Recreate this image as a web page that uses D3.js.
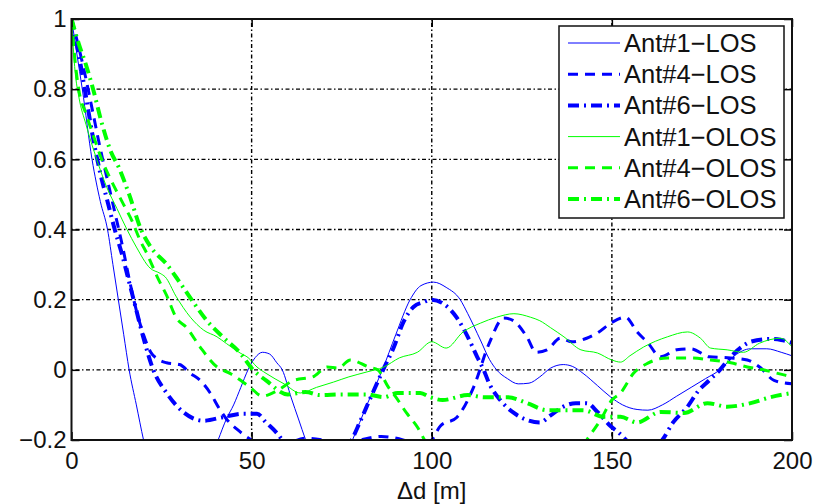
<!DOCTYPE html>
<html>
<head>
  <meta charset="utf-8">
  <title>Correlation vs distance</title>
  <script src="https://cdn.jsdelivr.net/npm/d3@7"></script>
  <style>
    body { margin: 0; background: #fff; }
    text { font-family: "Liberation Sans", Arial, sans-serif; fill: #111; }
  </style>
</head>
<body>
  <svg width="827" height="504" id="mainsvg"></svg>
  <script>
    // data: [delta d (m), value]
    const ant1LOS = [[0,1],[1.5,0.9],[3,0.8],[5.7,0.6],[8,0.48],[10,0.4],[11.5,0.3],[13,0.2],[14.5,0.1],[16,0],[18,-0.1],[20,-0.2],
      [23,-0.32],[27,-0.4],[31,-0.41],[35,-0.35],[38,-0.27],[40.7,-0.2],[43,-0.14],[45,-0.1],[47,-0.05],[49,0],[51,0.035],[53,0.05],
      [55,0.045],[57,0.02],[58.5,0],[61,-0.08],[63,-0.14],[65,-0.2],[68,-0.28],[72,-0.31],[75,-0.27],[78,-0.2],[82,-0.1],[86.3,0],
      [90,0.1],[94,0.2],[97,0.24],[100.5,0.25],[104,0.235],[107.9,0.2],[110,0.16],[113.5,0.085],[116,0.03],[118,0],[121,-0.025],
      [124,-0.04],[127,-0.038],[130,-0.02],[133,0.005],[136.5,0.015],[139,0.01],[142,-0.01],[146,-0.045],[149.6,-0.077],[153,-0.1],
      [157,-0.113],[160,-0.115],[164,-0.1],[168,-0.075],[172,-0.05],[176,-0.025],[180,0],[184,0.04],[188.5,0.06],[193,0.06],
      [197,0.05],[200,0.04]];
    const ant4LOS = [[0,1],[2,0.92],[4,0.83],[6,0.73],[8,0.63],[10,0.54],[12,0.45],[14,0.36],[16,0.26],[17.5,0.19],[20,0.1],[22,0.05],
      [24,0.03],[26.4,0.02],[30,0.015],[33,-0.01],[35.7,-0.03],[38.5,-0.066],[41,-0.11],[43,-0.14],[46,-0.17],[50,-0.2],[55,-0.22],
      [60,-0.21],[65,-0.195],[70,-0.2],[75,-0.21],[80,-0.2],[86,-0.19],[92,-0.2],[97,-0.22],[100,-0.2],[102.4,-0.16],[107,-0.135],
      [111.6,-0.05],[116,0.077],[120,0.148],[122.7,0.14],[126.4,0.094],[129,0.05],[132,0.057],[135.7,0.09],[139,0.08],[143,0.09],
      [146,0.105],[150,0.135],[153.8,0.15],[157,0.108],[160,0.077],[163.5,0.037],[168,0.057],[172,0.06],[177,0.037],[183,0.034],
      [187.6,0.028],[191,0.008],[195,-0.03],[200,-0.04]];
    const ant6LOS = [[0,1],[2,0.9],[4,0.78],[6,0.66],[8,0.56],[10,0.48],[12,0.4],[14,0.33],[16,0.25],[17.5,0.19],[20,0.09],[22.7,0],
      [26.4,-0.066],[31,-0.12],[36.6,-0.145],[42,-0.135],[47.7,-0.125],[51.5,-0.125],[54,-0.15],[57,-0.18],[60,-0.22],[65,-0.26],
      [70,-0.27],[75,-0.24],[78,-0.195],[80,-0.15],[83,-0.08],[86.5,0],[89.5,0.065],[92,0.133],[95,0.18],[97.7,0.193],[100,0.2],
      [103,0.19],[107,0.148],[110,0.094],[112.6,0.037],[114.4,0],[116,-0.04],[119,-0.086],[122.8,-0.123],[126.5,-0.143],[130,-0.15],
      [133,-0.13],[136.5,-0.105],[140,-0.095],[143,-0.095],[146,-0.12],[149.6,-0.16],[152,-0.18],[155,-0.21],[160,-0.24],[164,-0.2],
      [167,-0.15],[171,-0.105],[174,-0.06],[177,-0.03],[180,0],[183,0.037],[186,0.065],[188.5,0.08],[194,0.088],[197,0.085],[200,0.077]];
    const ant1OLOS = [[0,1],[1,0.85],[2,0.78],[4,0.7],[7,0.6],[9.8,0.52],[12.6,0.46],[15.4,0.4],[18,0.35],[21.8,0.29],[24.6,0.275],
      [26,0.265],[29,0.21],[33,0.15],[36.7,0.113],[40.4,0.094],[43,0.075],[46.8,0.048],[49,0.035],[51.5,0.008],[54,-0.01],[59,-0.04],
      [63.5,-0.066],[68,-0.05],[72.7,-0.035],[77,-0.02],[82,-0.006],[86.7,0.008],[91,0.034],[96,0.05],[100,0.08],[104,0.062],
      [108.7,0.108],[113.5,0.133],[118,0.15],[122.8,0.16],[127.4,0.15],[130,0.14],[133,0.12],[136.7,0.094],[141.4,0.057],[146,0.048],
      [150,0.028],[152.4,0.022],[155,0.04],[158.8,0.065],[165.4,0.094],[171,0.108],[174.6,0.09],[177.4,0.062],[182,0.057],
      [186.5,0.05],[191,0.076],[196.8,0.09],[200,0.065]];
    const ant4OLOS = [[0,1],[1,0.88],[2,0.8],[4,0.73],[6,0.67],[8,0.61],[11,0.54],[14,0.48],[17,0.42],[19,0.37],[21,0.33],[23.8,0.265],
      [26.5,0.21],[29,0.15],[32,0.12],[35.7,0.065],[40.4,0.008],[44,-0.01],[49.6,-0.05],[53,-0.075],[57,-0.06],[61.7,-0.03],[67,-0.02],
      [71,0.008],[74,0.005],[77.4,0.028],[82.5,0.008],[85,0],[88,-0.05],[90,-0.077],[93,-0.123],[96,-0.163],[98,-0.2],[102,-0.27],
      [110,-0.33],[120,-0.36],[130,-0.33],[138,-0.27],[143,-0.2],[147,-0.14],[150,-0.086],[152.4,-0.066],[156,-0.01],[160,0.019],
      [165.4,0.034],[172,0.034],[177.4,0.028],[183,0.02],[187.6,0.008],[192,0],[196,-0.01],[200,-0.02]];
    const ant6OLOS = [[0,1],[2,0.93],[4,0.87],[6,0.8],[8.5,0.7],[11,0.62],[13,0.58],[16,0.5],[19.3,0.4],[22,0.35],[26.5,0.3],[30,0.25],
      [34,0.19],[37.6,0.14],[42,0.094],[46.8,0.048],[50.4,0],[54,-0.03],[60,-0.07],[65,-0.063],[69,-0.072],[75,-0.07],[82,-0.07],
      [86.7,-0.078],[90.5,-0.066],[96.8,-0.066],[99.6,-0.078],[103,-0.086],[110,-0.072],[114.5,-0.078],[121,-0.078],[126.5,-0.095],
      [132,-0.115],[136.7,-0.115],[142,-0.115],[147.8,-0.134],[152.4,-0.134],[157,-0.15],[163.5,-0.12],[170,-0.123],[176.5,-0.095],
      [182,-0.105],[188.5,-0.095],[194,-0.078],[200,-0.066]];

    const seriesNames = ['Ant#1\u2212LOS', 'Ant#4\u2212LOS', 'Ant#6\u2212LOS', 'Ant#1\u2212OLOS', 'Ant#4\u2212OLOS', 'Ant#6\u2212OLOS'];
    const seriesData = [ant1LOS, ant4LOS, ant6LOS, ant1OLOS, ant4OLOS, ant6OLOS];
    const xTicks = [0, 50, 100, 150, 200];
    const yTicks = [-0.2, 0, 0.2, 0.4, 0.6, 0.8, 1];
    const xLabel = '\u0394d [m]';

    // line styles per series (MATLAB-ish)
    const styles = [
      { color: '#0000ff', width: 1, dash: null },
      { color: '#0000ff', width: 3, dash: '10,7' },
      { color: '#0000ff', width: 4, dash: '11,5,2,5' },
      { color: '#00ff00', width: 1, dash: null },
      { color: '#00ff00', width: 3, dash: '10,7' },
      { color: '#00ff00', width: 4, dash: '11,5,2,5' }
    ];

    const svg = d3.select('#mainsvg');
    const plotLeft = 71.5, plotRight = 792, plotTop = 19, plotBottom = 440;

    const x = d3.scaleLinear().domain([0, 200]).range([plotLeft, plotRight]);
    const y = d3.scaleLinear().domain([-0.2, 1]).range([plotBottom, plotTop]);

    svg.append('defs').append('clipPath').attr('id', 'plotclip')
      .append('rect').attr('x', plotLeft).attr('y', plotTop)
      .attr('width', plotRight - plotLeft).attr('height', plotBottom - plotTop);

    // grid
    const grid = svg.append('g').attr('class', 'grid')
      .attr('stroke', '#000').attr('stroke-width', 1.4).attr('stroke-dasharray', '1.5,2.5,4,2.5');
    grid.selectAll('.vgrid').data(xTicks.slice(1, -1)).join('line').attr('class', 'vgrid')
      .attr('x1', d => x(d)).attr('x2', d => x(d)).attr('y1', plotTop).attr('y2', plotBottom);
    grid.selectAll('.hgrid').data(yTicks.slice(1, -1)).join('line').attr('class', 'hgrid')
      .attr('x1', plotLeft).attr('x2', plotRight).attr('y1', d => y(d)).attr('y2', d => y(d));

    // curves
    const line = d3.line().x(d => x(d[0])).y(d => y(d[1])).curve(d3.curveMonotoneX);
    svg.append('g').attr('clip-path', 'url(#plotclip)')
      .selectAll('path').data(seriesData).join('path')
      .attr('fill', 'none')
      .attr('stroke', (d, i) => styles[i].color)
      .attr('stroke-width', (d, i) => styles[i].width)
      .attr('stroke-dasharray', (d, i) => styles[i].dash)
      .attr('stroke-linejoin', 'round')
      .attr('d', line);

    // axes with inward ticks on all four sides
    const tickLen = 8;
    const axisG = svg.append('g');
    axisG.append('g').attr('transform', `translate(0,${plotBottom})`)
      .call(d3.axisBottom(x).tickValues(xTicks).tickSizeInner(-tickLen).tickSizeOuter(0).tickPadding(12))
      .call(g => g.select('.domain').remove());
    axisG.append('g').attr('transform', `translate(0,${plotTop})`)
      .call(d3.axisTop(x).tickValues(xTicks).tickSizeInner(-tickLen).tickSizeOuter(0).tickFormat(''))
      .call(g => g.select('.domain').remove());
    axisG.append('g').attr('transform', `translate(${plotLeft},0)`)
      .call(d3.axisLeft(y).tickValues(yTicks).tickSizeInner(-tickLen).tickSizeOuter(0).tickPadding(5)
        .tickFormat(d => d === 1 ? '1' : d === 0 ? '0' : d3.format('.1f')(d).replace(/[-\u2212]/, '\u2212')))
      .call(g => g.select('.domain').remove());
    axisG.append('g').attr('transform', `translate(${plotRight},0)`)
      .call(d3.axisRight(y).tickValues(yTicks).tickSizeInner(-tickLen).tickSizeOuter(0).tickFormat(''))
      .call(g => g.select('.domain').remove());
    axisG.selectAll('.tick line').attr('stroke', '#000').attr('stroke-width', 1.5);
    axisG.selectAll('.tick text').attr('font-size', 24).attr('fill', '#111')
      .style('font-family', '"Liberation Sans", Arial, sans-serif');

    svg.append('rect').attr('x', plotLeft).attr('y', plotTop)
      .attr('width', plotRight - plotLeft).attr('height', plotBottom - plotTop)
      .attr('fill', 'none').attr('stroke', '#111').attr('stroke-width', 2);

    svg.append('text').attr('x', (plotLeft + plotRight) / 2).attr('y', 499)
      .attr('text-anchor', 'middle').attr('font-size', 24).text(xLabel);

    // legend
    const legend = svg.append('g').attr('transform', 'translate(559,26)');
    legend.append('rect').attr('width', 225).attr('height', 192)
      .attr('fill', '#fff').attr('stroke', '#111').attr('stroke-width', 1.5);
    const rows = legend.selectAll('.row').data(seriesNames).join('g').attr('class', 'row')
      .attr('transform', (d, i) => `translate(0,${17 + i * 31.2})`);
    rows.append('line').attr('x1', 9).attr('x2', 61).attr('y1', 0).attr('y2', 0)
      .attr('stroke', (d, i) => styles[i].color)
      .attr('stroke-width', (d, i) => styles[i].width)
      .attr('stroke-dasharray', (d, i) => styles[i].dash);
    rows.append('text').attr('x', 65).attr('y', 9).attr('font-size', 25.5).text(d => d);
  </script>
</body>
</html>
